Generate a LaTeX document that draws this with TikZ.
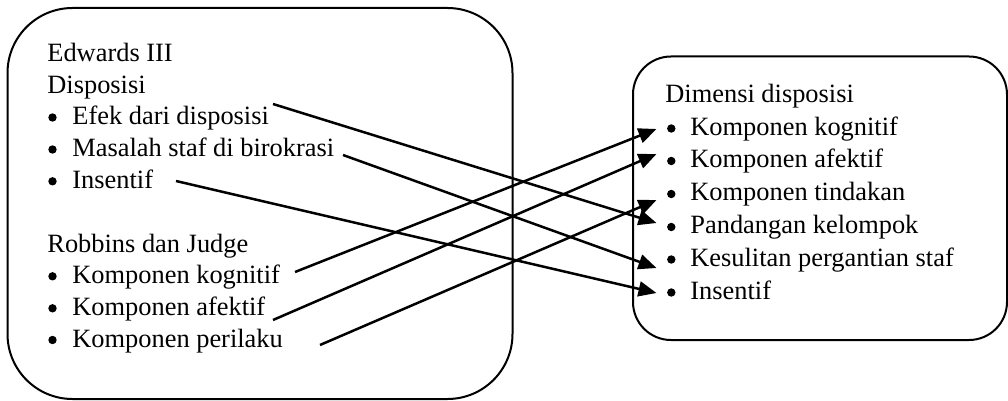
\documentclass[tikz,border=0pt]{standalone}
\usepackage{fontspec}
\setmainfont{Liberation Serif}
\usetikzlibrary{arrows.meta}
\begin{document}
\begin{tikzpicture}[x=0.5pt,y=-0.5pt,
  txt/.style={anchor=base west, inner sep=0pt, font=\fontsize{13.2pt}{15pt}\selectfont},
  bul/.style={circle, fill, inner sep=0pt, minimum size=4.2pt},
  box/.style={draw, line width=1pt},
  conn/.style={line width=1.25pt, -{Triangle[length=9pt,width=7.5pt]}}]
\useasboundingbox (0,0) rectangle (1008,401);
% boxes
\draw[box, rounded corners=32.5pt] (7.5,8) rectangle (512.5,399);
\draw[box, rounded corners=19pt] (633,56.5) rectangle (1007,340);
% left texts
\node[txt] (ed) at (47,62) {Edwards III};
\node[txt] (dp) at (47,93.5) {Disposisi};
\node[bul] (b1) at (52.5,117.5) {};
\node[txt] (l1) at (72,125) {Efek dari disposisi};
\node[bul] (b2) at (52.5,149.5) {};
\node[txt] (l2) at (72,157) {Masalah staf di birokrasi};
\node[bul] (b3) at (52.5,181.3) {};
\node[txt] (l3) at (72,188.8) {Insentif};
\node[txt] (rj) at (47,252) {Robbins dan Judge};
\node[bul] (b4) at (52.5,276.3) {};
\node[txt] (l4) at (72,283.8) {Komponen kognitif};
\node[bul] (b5) at (52.5,308.3) {};
\node[txt] (l5) at (72,315.8) {Komponen afektif};
\node[bul] (b6) at (52.5,340) {};
\node[txt] (l6) at (72,347.5) {Komponen perilaku};
% right texts
\node[txt] (dd) at (665,103) {Dimensi disposisi};
\node[bul] (c1) at (671.3,128.5) {};
\node[txt] (r1) at (690,135.5) {Komponen kognitif};
\node[bul] (c2) at (671.3,161) {};
\node[txt] (r2) at (690,168) {Komponen afektif};
\node[bul] (c3) at (671.3,194) {};
\node[txt] (r3) at (690,201) {Komponen tindakan};
\node[bul] (c4) at (671.3,227) {};
\node[txt] (r4) at (690,234) {Pandangan kelompok};
\node[bul] (c5) at (671.3,259.5) {};
\node[txt] (r5) at (690,266.5) {Kesulitan pergantian staf};
\node[bul] (c6) at (671.3,292.5) {};
\node[txt] (r6) at (690,299.5) {Insentif};
% connector ends
\coordinate (s1) at (273,104);
\coordinate (s2) at (343,155);
\coordinate (s3) at (176,181);
\coordinate (s4) at (295,272);
\coordinate (s5) at (273,320);
\coordinate (s6) at (320,345);
\coordinate (t1) at (656.5,129);
\coordinate (t2) at (656.5,154);
\coordinate (t3) at (656.5,200);
\coordinate (t4) at (656.5,223);
\coordinate (t5) at (656.5,268);
\coordinate (t6) at (656.5,293);
% connectors
\draw[conn] (s1) -- (t4);
\draw[conn] (s2) -- (t5);
\draw[conn] (s3) -- (t6);
\draw[conn] (s4) -- (t1);
\draw[conn] (s5) -- (t2);
\draw[conn] (s6) -- (t3);
\end{tikzpicture}
\end{document}
